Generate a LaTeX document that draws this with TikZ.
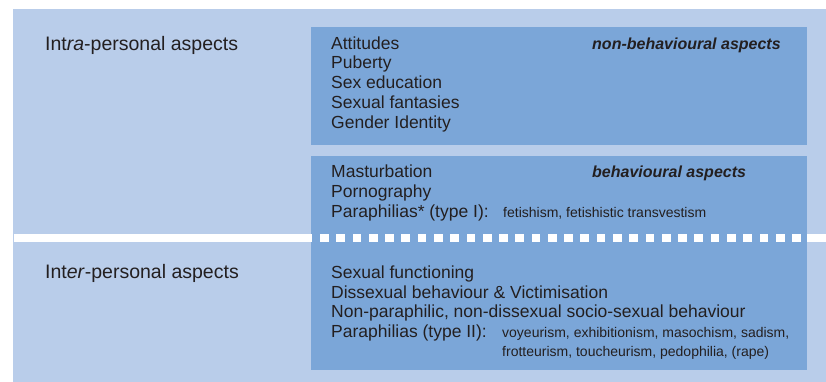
\documentclass[tikz,border=0pt]{standalone}
\usepackage{fontspec}
\setmainfont{Liberation Sans}
\definecolor{panel}{HTML}{B9CDEA}
\definecolor{boxblue}{HTML}{7BA6D8}
\definecolor{ink}{HTML}{231F20}
\begin{document}
\begin{tikzpicture}[x=1pt,y=-1pt,
  item/.style={anchor=base west, inner sep=0pt, text=ink, font=\fontsize{17.5}{20}\selectfont},
  side/.style={item, font=\fontsize{19.5}{22}\selectfont},
  tag/.style={item, font=\fontsize{16}{19}\selectfont\bfseries\itshape},
  small/.style={item, font=\fontsize{14}{17}\selectfont},
  divider/.style={fill=white}]
\useasboundingbox (0,0) rectangle (826,382);
% background panel and the two aspect boxes
\fill[panel] (13,9) rectangle (826,382);
\fill[boxblue] (311,27) rectangle (807,145);
\fill[boxblue] (311,156) rectangle (807,370);
% divider between intra- and inter-personal aspects
\fill[divider] (14,234) rectangle (311.5,241.7);
\fill[divider] (807,234) rectangle (826,241.7);
\foreach \i in {0,...,29}
  \fill[divider] ({320+16.28*\i},234) rectangle ++(8.7,7.7);
% side labels
\node[side] (intra) at (45,50.5) {Int\textit{ra}-personal aspects};
\node[side] (inter) at (45,278.5) {Int\textit{er}-personal aspects};
% non-behavioural aspects
\node[tag] (nbtag) at (592,49.3) {non-behavioural aspects};
\node[item] (att) at (331,49.3) {Attitudes};
\node[item] (pub) at (331,69) {Puberty};
\node[item] (sexed) at (331,88.7) {Sex education};
\node[item] (fant) at (331,108.4) {Sexual fantasies};
\node[item] (gend) at (331,128.1) {Gender Identity};
% behavioural aspects
\node[tag] (btag) at (592,177.5) {behavioural aspects};
\node[item] (mast) at (331,178) {Masturbation};
\node[item] (porn) at (331,197.6) {Pornography};
\node[item] (para1) at (331,217.2) {Paraphilias* (type I):};
\node[small] (para1x) at (503,217.2) {fetishism, fetishistic transvestism};
% inter-personal items
\node[item] (func) at (331,278.3) {Sexual functioning};
\node[item] (diss) at (331,298) {Dissexual behaviour \& Victimisation};
\node[item] (nonpara) at (331,317.7) {Non-paraphilic, non-dissexual socio-sexual behaviour};
\node[item] (para2) at (331,337.2) {Paraphilias (type II):};
\node[small] (para2x) at (502,337.2) {voyeurism, exhibitionism, masochism, sadism,};
\node[small] (para2y) at (502,356.8) {frotteurism, toucheurism, pedophilia, (rape)};
\end{tikzpicture}
\end{document}
